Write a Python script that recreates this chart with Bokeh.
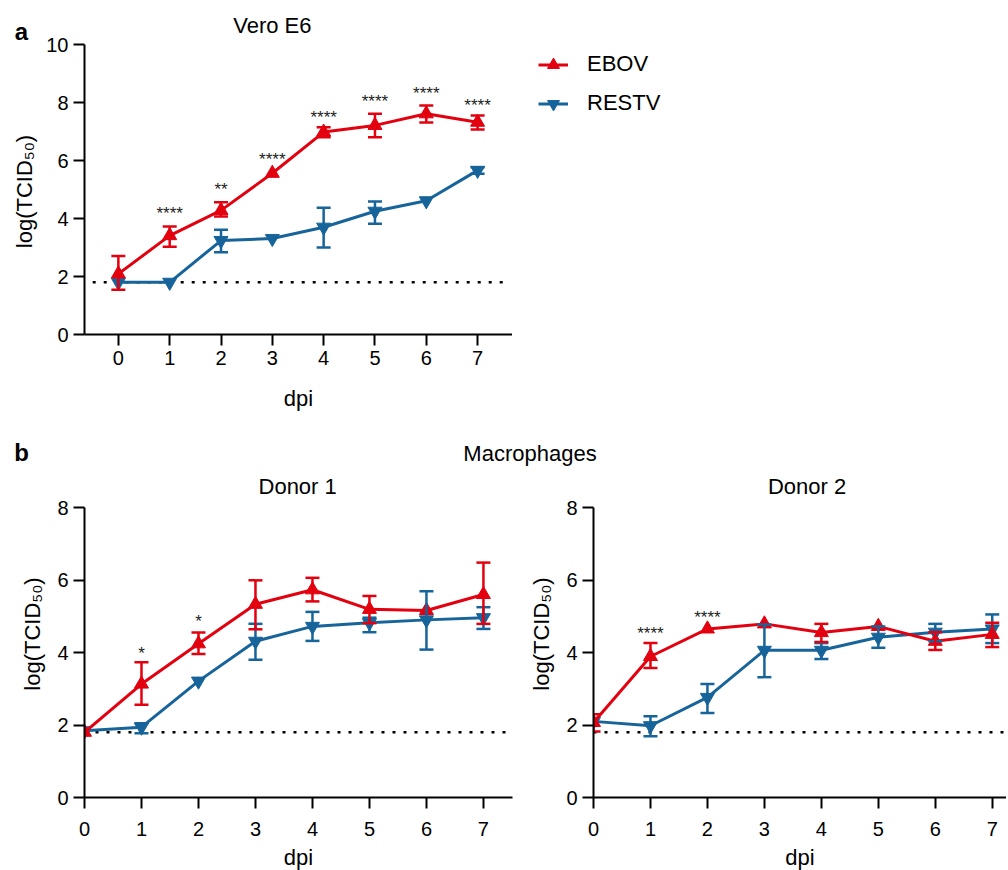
import math
from bokeh.plotting import figure
from bokeh.models import (Whisker, TeeHead, ColumnDataSource, Legend,
                          LegendItem, FixedTicker, Range1d)
from bokeh.layouts import column, row
from bokeh.embed import file_html
from bokeh.resources import INLINE
from bokeh.core.properties import value

FONT = "Liberation Sans"
RED = "#E3000F"
BLUE = "#17649A"

dpi = [0, 1, 2, 3, 4, 5, 6, 7]
LOD = 1.8
Y_LABEL = "log(TCID\u2085\u2080)"
series_names = ["EBOV", "RESTV"]

# ---- panel a : Vero E6
vero_ebov = [2.09, 3.41, 4.28, 5.56, 6.98, 7.21, 7.61, 7.32]
vero_ebov_up = [2.71, 3.72, 4.56, None, 7.15, 7.61, 7.90, 7.55]
vero_ebov_lo = [1.54, 3.03, 4.07, None, 6.80, 6.80, 7.31, 7.07]
vero_restv = [1.80, 1.80, 3.24, 3.31, 3.70, 4.25, 4.61, 5.66]
vero_restv_up = [None, None, 3.61, None, 4.37, 4.59, None, 5.77]
vero_restv_lo = [None, None, 2.84, None, 3.00, 3.82, None, 5.54]
vero_sig_x = [1, 2, 3, 4, 5, 6, 7]
vero_sig_y = [4.53, 5.33, 6.38, 7.82, 8.39, 8.64, 8.24]
vero_sig = ["****", "**", "****", "****", "****", "****", "****"]

# ---- panel b : Macrophages donor 1
d1_ebov = [1.80, 3.13, 4.24, 5.33, 5.73, 5.19, 5.16, 5.60]
d1_ebov_up = [None, 3.73, 4.55, 5.99, 6.06, 5.56, None, 6.48]
d1_ebov_lo = [None, 2.56, 3.96, 4.64, 5.41, 4.81, None, 4.79]
d1_restv = [1.84, 1.94, 3.21, 4.31, 4.72, 4.82, 4.90, 4.96]
d1_restv_up = [None, 2.05, None, 4.79, 5.12, 4.96, 5.69, 5.25]
d1_restv_lo = [None, 1.77, None, 3.80, 4.32, 4.56, 4.08, 4.65]
d1_sig_x = [1, 2]
d1_sig_y = [4.24, 5.12]
d1_sig = ["*", "*"]

# ---- panel b : Macrophages donor 2
d2_ebov = [2.07, 3.89, 4.65, 4.79, 4.55, 4.72, 4.31, 4.50]
d2_ebov_up = [2.30, 4.26, None, None, 4.79, None, 4.56, 4.82]
d2_ebov_lo = [1.82, 3.57, None, None, 4.29, None, 4.07, 4.15]
d2_restv = [2.10, 1.98, 2.76, 4.06, 4.06, 4.42, 4.56, 4.65]
d2_restv_up = [None, 2.24, 3.13, 4.77, 4.26, 4.72, 4.79, 5.05]
d2_restv_lo = [None, 1.69, 2.33, 3.32, 3.82, 4.13, 4.31, 4.26]
d2_sig_x = [1, 2]
d2_sig_y = [4.79, 5.25]
d2_sig = ["****", "****"]

# ---- headings
panel_letters = ["a", "b"]
panel_titles = ["Vero E6", "Macrophages", "Donor 1", "Donor 2"]

TOTAL_W = 1006
NAN = float("nan")


def style(p, yticks, ymax, x_std1, x_std2, y_label=True):
    p.xgrid.visible = False
    p.ygrid.visible = False
    p.outline_line_color = None
    p.background_fill_color = "white"
    p.border_fill_color = "white"
    p.xaxis.ticker = FixedTicker(ticks=dpi)
    p.yaxis.ticker = FixedTicker(ticks=yticks)
    p.yaxis.bounds = (0, ymax)
    for ax in (p.xaxis, p.yaxis):
        ax.axis_line_width = 2
        ax.axis_line_color = "black"
        ax.major_tick_line_width = 2
        ax.major_tick_line_color = "black"
        ax.major_tick_out = 11
        ax.major_tick_in = 0
        ax.minor_tick_out = 0
        ax.minor_tick_in = 0
        ax.major_label_text_font = FONT
        ax.major_label_text_font_size = "20px"
        ax.major_label_text_color = "black"
        ax.axis_label_text_font = FONT
        ax.axis_label_text_font_size = "22px"
        ax.axis_label_text_font_style = "normal"
        ax.axis_label_text_color = "black"
    p.xaxis.axis_label = "dpi"
    if y_label:
        p.yaxis.axis_label = Y_LABEL
    p.xaxis.major_label_standoff = x_std1
    p.xaxis.axis_label_standoff = x_std2
    p.yaxis.major_label_standoff = 5
    p.yaxis.axis_label_standoff = 9


def series(p, mean, up, lo, color, marker):
    p.line(dpi, mean, line_color=color, line_width=3)
    xs = [x for x, u in zip(dpi, up) if u is not None]
    us = [u for u in up if u is not None]
    ls = [l for l in lo if l is not None]
    src = ColumnDataSource(dict(x=xs, upper=us, lower=ls))
    w = Whisker(base="x", upper="upper", lower="lower", source=src,
                line_color=color, line_width=2.5, level="glyph",
                upper_head=TeeHead(size=14, line_color=color, line_width=2.5),
                lower_head=TeeHead(size=14, line_color=color, line_width=2.5))
    p.add_layout(w)
    p.scatter(dpi, mean, marker=marker, size=14, fill_color=color,
              line_color=color)


def lod_line(p, x0, x1):
    p.line([x0, x1], [LOD, LOD], line_color="black", line_width=2.5,
           line_dash="3 8")


def stars(p, xs, ys, texts):
    p.text(xs, ys, text=texts, text_font=value(FONT), text_font_size="17px",
           text_align="center", text_baseline="alphabetic", y_offset=10,
           text_color="#222222")


def heading(p, xs, ys, texts, size="22px", bold=False, angle=0.0):
    p.text(xs, ys, text=texts, text_font=value(FONT), text_font_size=size,
           text_font_style="bold" if bold else "normal", angle=angle,
           text_align="center", text_baseline="middle", text_color="black")


def blank(width, frame_h, bottom=0):
    # plain box with no axes; its frame spans frame_h pixels, so that a
    # row of plots keeps the frames aligned
    s = figure(frame_width=width, frame_height=frame_h,
               x_range=Range1d(0, width), y_range=Range1d(0, frame_h),
               output_backend="svg", toolbar_location=None,
               x_axis_type=None, y_axis_type=None,
               min_border=0, min_border_left=0, min_border_right=0,
               min_border_top=0, min_border_bottom=bottom)
    s.outline_line_color = None
    s.background_fill_color = "white"
    s.border_fill_color = "white"
    return s


# ================= panel a
PA_FRAME_BOTTOM = 334            # pixel row of y = 0
PA_UNIT = 29.0                   # pixels per log unit
PA_H = 416
PA_BOT = PA_H - PA_FRAME_BOTTOM
LEFT_W = 40

# left strip: panel letter and the y-axis title of panel a
left = blank(LEFT_W, PA_FRAME_BOTTOM, PA_BOT)
heading(left, [21], [PA_FRAME_BOTTOM - 31], [panel_letters[0]], size="24px",
        bold=True)
heading(left, [24], [PA_FRAME_BOTTOM - 191], [Y_LABEL], angle=math.pi / 2)

pa = figure(frame_width=428, frame_height=PA_FRAME_BOTTOM,
            x_range=Range1d(-0.66, 7.68),
            y_range=Range1d(0, PA_FRAME_BOTTOM / PA_UNIT),
            output_backend="svg", toolbar_location=None,
            min_border_left=84 - LEFT_W, min_border_right=0,
            min_border_top=0, min_border_bottom=PA_BOT)
style(pa, [0, 2, 4, 6, 8, 10], 10, 5, 18, y_label=False)
lod_line(pa, -0.5, 7.55)
series(pa, vero_restv, vero_restv_up, vero_restv_lo, BLUE, "inverted_triangle")
series(pa, vero_ebov, vero_ebov_up, vero_ebov_lo, RED, "triangle")
stars(pa, vero_sig_x, vero_sig_y, vero_sig)
heading(pa, [3.0], [10.64], [panel_titles[0]])

# legend box to the right of panel a
lg = blank(220, PA_FRAME_BOTTOM, PA_BOT)
le_l = lg.line([NAN], [NAN], line_color=RED, line_width=3)
le_s = lg.scatter([NAN], [NAN], marker="triangle", size=14, fill_color=RED,
                  line_color=RED)
lr_l = lg.line([NAN], [NAN], line_color=BLUE, line_width=3)
lr_s = lg.scatter([NAN], [NAN], marker="inverted_triangle", size=14,
                  fill_color=BLUE, line_color=BLUE)
LEG_H = 35 * 2 + 4
legend = Legend(items=[LegendItem(label=series_names[0], renderers=[le_l, le_s]),
                       LegendItem(label=series_names[1], renderers=[lr_l, lr_s])],
                location=(26, PA_FRAME_BOTTOM - 46.5 - LEG_H), margin=0,
                padding=0, spacing=4, glyph_width=30, glyph_height=35,
                label_height=35, label_standoff=19, border_line_color=None,
                background_fill_alpha=0, label_text_font=FONT,
                label_text_font_size="22px", label_text_color="black")
lg.add_layout(legend)

# ================= heading strip for panel b
S2_TOP = PA_H
S2_H = 470 - S2_TOP
s2 = blank(TOTAL_W, S2_H)
heading(s2, [21], [S2_H - (452 - S2_TOP)], [panel_letters[1]], size="24px",
        bold=True)
heading(s2, [529.5], [S2_H - (453 - S2_TOP)], [panel_titles[1]])

# ================= panel b
PB_TOP = 470
PB_FRAME_BOTTOM = 797
PB_UNIT = (PB_FRAME_BOTTOM - 507) / 8.0
PB_FH = PB_FRAME_BOTTOM - PB_TOP
PB_BOT = 72

pb1 = figure(frame_width=428, frame_height=PB_FH, x_range=Range1d(0, 7.51),
             y_range=Range1d(0, PB_FH / PB_UNIT), output_backend="svg",
             toolbar_location=None, min_border_left=84, min_border_right=13,
             min_border_top=0, min_border_bottom=PB_BOT)
style(pb1, [0, 2, 4, 6, 8], 8, 13, 6)
lod_line(pb1, 0, 7.51)
series(pb1, d1_restv, d1_restv_up, d1_restv_lo, BLUE, "inverted_triangle")
series(pb1, d1_ebov, d1_ebov_up, d1_ebov_lo, RED, "triangle")
stars(pb1, d1_sig_x, d1_sig_y, d1_sig)
heading(pb1, [3.74], [8.58], [panel_titles[2]])

pb2 = figure(frame_width=413, frame_height=PB_FH, x_range=Range1d(0, 7.25),
             y_range=Range1d(0, PB_FH / PB_UNIT), output_backend="svg",
             toolbar_location=None, min_border_left=68, min_border_right=0,
             min_border_top=0, min_border_bottom=PB_BOT)
style(pb2, [0, 2, 4, 6, 8], 8, 13, 6)
lod_line(pb2, 0, 7.25)
series(pb2, d2_restv, d2_restv_up, d2_restv_lo, BLUE, "inverted_triangle")
series(pb2, d2_ebov, d2_ebov_up, d2_ebov_lo, RED, "triangle")
stars(pb2, d2_sig_x, d2_sig_y, d2_sig)
heading(pb2, [3.75], [8.58], [panel_titles[3]])

layout = column(row(left, pa, lg), row(s2), row(pb1, pb2), spacing=0)
open("out.html", "w").write(file_html(layout, INLINE))
